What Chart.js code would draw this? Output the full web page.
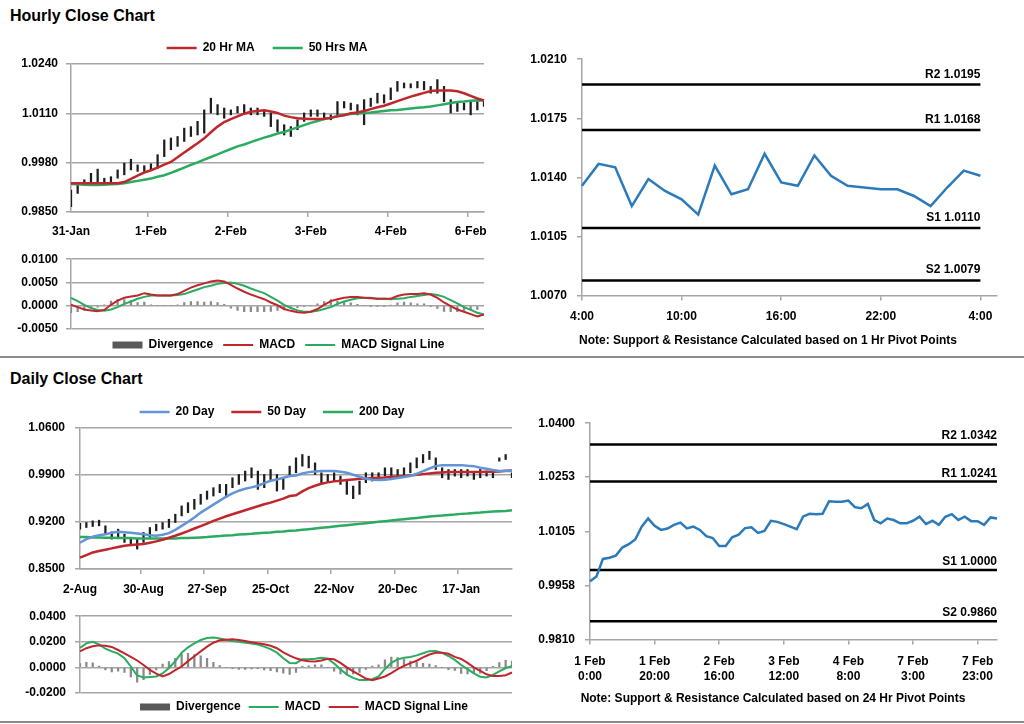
<!DOCTYPE html>
<html><head><meta charset="utf-8">
<script src="https://cdn.jsdelivr.net/npm/chart.js@4.4.1/dist/chart.umd.min.js"></script>
<style>
html,body{margin:0;padding:0;background:#fff;width:1024px;height:724px;overflow:hidden;position:relative;font-family:'Liberation Sans',Arial,sans-serif;}
.box{position:absolute;}
.title{position:absolute;left:10px;font-weight:bold;font-size:16px;line-height:16px;color:#000;white-space:nowrap;}
.sep{position:absolute;left:0;width:1024px;height:2px;background:#8c8c8c;}
</style></head><body>
<div class="title" style="top:8px">Hourly Close Chart</div>
<div class="title" style="top:371px">Daily Close Chart</div>
<div class="sep" style="top:356px"></div>
<div class="sep" style="top:721px"></div>
<div class="box" style="left:0;top:24px;width:534px;height:218px"><canvas id="cA"></canvas></div>
<div class="box" style="left:0;top:244px;width:557px;height:117px"><canvas id="cB"></canvas></div>
<div class="box" style="left:520px;top:42px;width:496px;height:310px"><canvas id="cC"></canvas></div>
<div class="box" style="left:0;top:389px;width:544px;height:212px"><canvas id="cD"></canvas></div>
<div class="box" style="left:0;top:600px;width:608px;height:123px"><canvas id="cE"></canvas></div>
<div class="box" style="left:530px;top:406px;width:486px;height:304px"><canvas id="cF"></canvas></div>
<script>
// ================= DATA =================
// Hourly close chart (2-hour samples from 31-Jan 0:00)
const hourlyDays = ['31-Jan','1-Feb','2-Feb','3-Feb','4-Feb','6-Feb'];
const hourlyHigh = [0.9908,0.9926,0.9935,0.9952,0.9963,0.9939,0.9943,0.9961,0.9979,0.9989,
 0.9974,0.9972,0.9977,1.0001,1.0040,1.0045,1.0049,1.0071,1.0075,1.0089,
 1.0119,1.0150,1.0133,1.0124,1.0119,1.0128,1.0133,1.0124,1.0124,1.0119,
 1.0111,1.0093,1.0080,1.0075,1.0093,1.0111,1.0119,1.0119,1.0111,1.0106,
 1.0141,1.0141,1.0137,1.0133,1.0146,1.0150,1.0163,1.0159,1.0177,1.0194,
 1.0190,1.0188,1.0194,1.0194,1.0181,1.0199,1.0181,1.0146,1.0141,1.0137,
 1.0141,1.0141,1.0146];
const hourlyLow = [0.9864,0.9899,0.9921,0.9924,0.9926,0.9924,0.9926,0.9939,0.9948,0.9961,
 0.9957,0.9957,0.9961,0.9965,0.9996,1.0014,1.0023,1.0036,1.0049,1.0053,
 1.0058,1.0111,1.0106,1.0097,1.0106,1.0111,1.0111,1.0106,1.0106,1.0102,
 1.0075,1.0062,1.0053,1.0049,1.0067,1.0089,1.0102,1.0102,1.0093,1.0093,
 1.0106,1.0124,1.0119,1.0106,1.0080,1.0128,1.0137,1.0137,1.0146,1.0168,
 1.0177,1.0177,1.0177,1.0172,1.0163,1.0163,1.0141,1.0111,1.0115,1.0119,
 1.0106,1.0119,1.0128];
const hourlyMA20 = [0.9926,0.9926,0.9926,0.9926,0.9926,0.9926,0.9926,0.9926,0.9929,0.9937,
 0.9946,0.9954,0.9960,0.9967,0.9975,0.9982,0.9994,1.0007,1.0019,1.0031,
 1.0044,1.0060,1.0075,1.0087,1.0095,1.0102,1.0109,1.0114,1.0116,1.0118,
 1.0115,1.0111,1.0104,1.0100,1.0097,1.0096,1.0095,1.0095,1.0096,1.0098,
 1.0102,1.0105,1.0110,1.0112,1.0116,1.0121,1.0126,1.0130,1.0136,1.0142,
 1.0148,1.0154,1.0159,1.0164,1.0169,1.0170,1.0170,1.0170,1.0168,1.0163,
 1.0156,1.0149,1.0144];
const hourlyMA50 = [0.9924,0.9923,0.9922,0.9921,0.9921,0.9922,0.9923,0.9924,0.9926,0.9929,
 0.9932,0.9935,0.9938,0.9943,0.9947,0.9953,0.9960,0.9967,0.9974,0.9981,
 0.9988,0.9995,1.0002,1.0009,1.0016,1.0023,1.0028,1.0034,1.0040,1.0046,
 1.0051,1.0057,1.0061,1.0067,1.0073,1.0079,1.0085,1.0090,1.0095,1.0098,
 1.0103,1.0106,1.0108,1.0110,1.0111,1.0112,1.0114,1.0116,1.0118,1.0119,
 1.0121,1.0123,1.0125,1.0126,1.0128,1.0131,1.0134,1.0137,1.0140,1.0141,
 1.0143,1.0144,1.0144];
const hourlyYTicks = [0.9850,0.9980,1.0110,1.0240];

const hMacd = [0.0002,-0.0003,-0.0008,-0.0010,-0.0012,-0.0009,0.0002,0.0011,0.0017,0.0020,
 0.0022,0.0027,0.0024,0.0022,0.0022,0.0022,0.0025,0.0032,0.0039,0.0044,
 0.0048,0.0052,0.0054,0.0052,0.0045,0.0037,0.0030,0.0024,0.0019,0.0014,
 0.0007,0.0001,-0.0007,-0.0011,-0.0014,-0.0015,-0.0013,-0.0007,0.0002,0.0010,
 0.0014,0.0017,0.0019,0.0019,0.0017,0.0016,0.0015,0.0015,0.0015,0.0021,
 0.0024,0.0025,0.0025,0.0027,0.0024,0.0017,0.0007,-0.0001,-0.0008,-0.0013,
 -0.0018,-0.0023,-0.0019];
const hSignal = [0.0017,0.0010,0.0002,-0.0005,-0.0009,-0.0011,-0.0008,-0.0003,0.0004,0.0009,
 0.0015,0.0019,0.0022,0.0022,0.0022,0.0022,0.0023,0.0025,0.0030,0.0035,
 0.0040,0.0043,0.0047,0.0049,0.0050,0.0047,0.0043,0.0037,0.0032,0.0027,
 0.0019,0.0011,0.0002,-0.0005,-0.0010,-0.0013,-0.0013,-0.0011,-0.0007,-0.0003,
 0.0004,0.0009,0.0013,0.0016,0.0017,0.0017,0.0015,0.0015,0.0014,0.0015,
 0.0016,0.0019,0.0021,0.0023,0.0025,0.0023,0.0019,0.0012,0.0005,-0.0003,
 -0.0009,-0.0015,-0.0019];
const hDiv = [-0.0015,-0.0013,-0.0010,-0.0005,-0.0003,0.0002,0.0010,0.0014,0.0013,0.0011,
 0.0007,0.0008,0.0002,0.0000,0.0000,0.0000,0.0002,0.0007,0.0009,0.0009,
 0.0008,0.0009,0.0007,0.0003,-0.0005,-0.0010,-0.0013,-0.0013,-0.0013,-0.0013,
 -0.0012,-0.0010,-0.0009,-0.0006,-0.0004,-0.0002,0.0000,0.0004,0.0009,0.0013,
 0.0010,0.0008,0.0006,0.0003,0.0000,-0.0001,-0.0001,-0.0001,0.0001,0.0006,
 0.0008,0.0006,0.0004,0.0004,-0.0001,-0.0006,-0.0012,-0.0013,-0.0013,-0.0010,
 -0.0009,-0.0008,0.0000];
const hMacdTicks = [-0.0050,0.0000,0.0050,0.0100];

// Hourly pivot chart (1 Hr pivots)
const pivotHours = ['4:00','5:00','6:00','7:00','8:00','9:00','10:00','11:00','12:00','13:00','14:00','15:00','16:00','17:00','18:00','19:00','20:00','21:00','22:00','23:00','0:00','1:00','2:00','3:00','4:00',''];
const pivotHourly = [1.0135,1.0148,1.0146,1.0123,1.0139,1.0132,1.0127,1.0118,1.0147,1.0130,1.0133,1.0154,1.0137,1.0135,1.0153,1.0141,1.0135,1.0134,1.0133,1.0133,1.0129,1.0123,1.0134,1.0144,1.0141];
const hourlyLevelNames = ['R2','R1','S1','S2'];
const hourlyLevels = [1.0195,1.0168,1.0110,1.0079];
const pivotHourlyYTicks = [1.0070,1.0105,1.0140,1.0175,1.0210];

// Daily close chart (2-trading-day samples from 2-Aug)
const dailyTicks = ['2-Aug','30-Aug','27-Sep','25-Oct','22-Nov','20-Dec','17-Jan'];
const dailyHigh = [0.9182,0.9192,0.9217,0.9227,0.9143,0.9054,0.9093,0.9019,0.8970,0.8945,
 0.9044,0.9118,0.9167,0.9192,0.9241,0.9316,0.9439,0.9488,0.9538,0.9612,
 0.9661,0.9711,0.9760,0.9760,0.9859,0.9908,0.9958,1.0007,0.9958,0.9908,
 0.9982,0.9908,0.9859,1.0032,1.0155,1.0205,1.0180,1.0081,0.9933,0.9908,
 0.9933,0.9884,0.9834,0.9735,0.9810,0.9933,0.9933,0.9933,1.0007,1.0007,
 0.9982,1.0007,1.0081,1.0155,1.0205,1.0254,1.0155,1.0007,0.9982,0.9982,
 0.9982,0.9982,0.9933,0.9982,0.9958,0.9958,1.0155,1.0205,0.9933];
const dailyLow = [0.9093,0.9118,0.9133,0.9143,0.9019,0.8945,0.8970,0.8896,0.8846,0.8797,
 0.8896,0.8970,0.9069,0.9093,0.9118,0.9192,0.9291,0.9340,0.9390,0.9464,
 0.9538,0.9587,0.9637,0.9563,0.9711,0.9760,0.9810,0.9859,0.9686,0.9711,
 0.9810,0.9661,0.9686,0.9884,0.9933,1.0032,1.0007,0.9908,0.9760,0.9785,
 0.9810,0.9760,0.9612,0.9548,0.9612,0.9785,0.9810,0.9834,0.9884,0.9859,
 0.9859,0.9884,0.9933,1.0007,1.0081,1.0131,0.9982,0.9859,0.9834,0.9884,
 0.9859,0.9884,0.9834,0.9859,0.9884,0.9859,1.0106,1.0131,0.9859];
const daily20 = [0.8891,0.8945,0.8980,0.9004,0.9019,0.9039,0.9054,0.9049,0.9039,0.9029,
 0.9019,0.9004,0.8994,0.9009,0.9034,0.9083,0.9143,0.9202,0.9266,0.9340,
 0.9400,0.9459,0.9518,0.9577,0.9627,0.9666,0.9696,0.9716,0.9740,0.9780,
 0.9815,0.9834,0.9859,0.9884,0.9894,0.9923,0.9943,0.9953,0.9958,0.9958,
 0.9958,0.9948,0.9933,0.9903,0.9874,0.9849,0.9829,0.9824,0.9829,0.9839,
 0.9854,0.9869,0.9884,0.9918,0.9958,0.9997,1.0032,1.0047,1.0047,1.0047,
 1.0047,1.0037,1.0032,1.0007,0.9992,0.9973,0.9958,0.9958,0.9958];
const daily50 = [0.8668,0.8708,0.8747,0.8767,0.8787,0.8807,0.8827,0.8846,0.8856,0.8866,
 0.8871,0.8891,0.8911,0.8935,0.8965,0.8995,0.9029,0.9064,0.9103,0.9138,
 0.9177,0.9217,0.9251,0.9286,0.9316,0.9345,0.9375,0.9405,0.9434,0.9464,
 0.9488,0.9518,0.9548,0.9587,0.9597,0.9656,0.9706,0.9740,0.9770,0.9790,
 0.9805,0.9815,0.9824,0.9834,0.9844,0.9849,0.9854,0.9859,0.9864,0.9874,
 0.9879,0.9884,0.9894,0.9903,0.9913,0.9923,0.9933,0.9938,0.9943,0.9943,
 0.9943,0.9943,0.9943,0.9943,0.9948,0.9948,0.9953,0.9963,0.9968];
const daily200 = [0.8975,0.8975,0.8970,0.8970,0.8965,0.8965,0.8960,0.8960,0.8960,0.8955,
 0.8955,0.8955,0.8955,0.8955,0.8955,0.8955,0.8960,0.8960,0.8965,0.8970,
 0.8975,0.8985,0.8990,0.8999,0.9004,0.9014,0.9019,0.9024,0.9034,0.9039,
 0.9044,0.9054,0.9059,0.9069,0.9074,0.9083,0.9093,0.9103,0.9113,0.9123,
 0.9133,0.9143,0.9153,0.9162,0.9172,0.9182,0.9192,0.9202,0.9212,0.9222,
 0.9232,0.9241,0.9251,0.9261,0.9271,0.9281,0.9291,0.9296,0.9306,0.9311,
 0.9321,0.9325,0.9335,0.9340,0.9350,0.9355,0.9360,0.9365,0.9375];
const dailyYTicks = [0.8500,0.9200,0.9900,1.0600];

const dMacd = [0.0153,0.0188,0.0200,0.0179,0.0146,0.0125,0.0108,0.0071,0.0007,-0.0063,
 -0.0078,-0.0075,-0.0071,-0.0047,-0.0005,0.0049,0.0115,0.0157,0.0188,0.0214,
 0.0230,0.0233,0.0226,0.0216,0.0207,0.0200,0.0193,0.0186,0.0179,0.0162,
 0.0143,0.0115,0.0071,0.0035,0.0033,0.0063,0.0063,0.0068,0.0075,0.0068,
 0.0031,-0.0014,-0.0056,-0.0082,-0.0099,-0.0099,-0.0092,-0.0071,-0.0012,0.0035,
 0.0063,0.0075,0.0082,0.0094,0.0110,0.0127,0.0129,0.0113,0.0089,0.0059,
 0.0019,-0.0014,-0.0047,-0.0073,-0.0078,-0.0059,-0.0031,-0.0005,0.0009];
const dSignal = [0.0125,0.0150,0.0165,0.0172,0.0169,0.0160,0.0136,0.0110,0.0082,0.0054,
 0.0019,-0.0019,-0.0049,-0.0071,-0.0052,-0.0021,0.0007,0.0049,0.0087,0.0125,
 0.0162,0.0193,0.0212,0.0216,0.0219,0.0214,0.0207,0.0197,0.0188,0.0181,
 0.0169,0.0150,0.0118,0.0092,0.0071,0.0056,0.0049,0.0047,0.0054,0.0068,
 0.0063,0.0035,0.0000,-0.0031,-0.0059,-0.0087,-0.0101,-0.0087,-0.0071,-0.0045,
 -0.0014,0.0012,0.0033,0.0052,0.0078,0.0101,0.0115,0.0115,0.0106,0.0082,
 0.0066,0.0035,0.0000,-0.0028,-0.0054,-0.0068,-0.0068,-0.0061,-0.0040];
const dDiv = [0.0030,0.0040,0.0035,0.0010,-0.0020,-0.0035,-0.0030,-0.0040,-0.0075,-0.0115,
 -0.0095,-0.0055,-0.0020,0.0025,0.0045,0.0070,0.0105,0.0110,0.0100,0.0090,
 0.0070,0.0040,0.0015,0.0000,-0.0010,-0.0015,-0.0015,-0.0012,-0.0010,-0.0020,
 -0.0025,-0.0035,-0.0045,-0.0055,-0.0040,0.0008,0.0012,0.0020,0.0020,0.0000,
 -0.0030,-0.0050,-0.0055,-0.0050,-0.0040,-0.0015,0.0010,0.0020,0.0060,0.0080,
 0.0077,0.0063,0.0050,0.0040,0.0032,0.0026,0.0014,0.0000,-0.0017,-0.0023,
 -0.0047,-0.0050,-0.0047,-0.0045,-0.0025,0.0009,0.0037,0.0056,0.0049];
const dMacdTicks = [-0.0200,0.0000,0.0200,0.0400];

// Daily pivot chart (24 Hr pivots), 2-hour samples
const pivotDailyTicks = [['1 Feb','0:00'],['1 Feb','20:00'],['2 Feb','16:00'],['3 Feb','12:00'],['4 Feb','8:00'],['7 Feb','3:00'],['7 Feb','23:00']];
const pivotDaily = [0.9969,0.9982,1.0030,1.0033,1.0039,1.0061,1.0070,1.0083,1.0118,1.0140,
 1.0120,1.0109,1.0113,1.0123,1.0129,1.0113,1.0118,1.0109,1.0092,1.0087,
 1.0065,1.0065,1.0089,1.0096,1.0114,1.0116,1.0101,1.0106,1.0134,1.0131,
 1.0125,1.0118,1.0111,1.0146,1.0153,1.0152,1.0153,1.0187,1.0186,1.0186,
 1.0189,1.0171,1.0168,1.0180,1.0136,1.0127,1.0140,1.0136,1.0127,1.0127,
 1.0134,1.0145,1.0125,1.0134,1.0123,1.0145,1.0152,1.0136,1.0145,1.0133,
 1.0133,1.0123,1.0143,1.0140];
const dailyLevelNames = ['R2','R1','S1','S2'];
const dailyLevels = [1.0342,1.0241,1.0000,0.9860];
const pivotDailyYTicks = [0.9810,0.9958,1.0105,1.0253,1.0400];

// ================= STYLE / HELPERS =================
Chart.defaults.font.family = "'Liberation Sans', Arial, Helvetica, sans-serif";
Chart.defaults.font.size = 12;
Chart.defaults.font.weight = 'bold';
Chart.defaults.color = '#000';
Chart.defaults.animation = false;
Chart.defaults.plugins.tooltip.enabled = false;
Chart.defaults.elements.point.radius = 0;
Chart.defaults.elements.line.tension = 0;

const GRID = '#a6a6a6';
const RED = '#c0272d', GREEN = '#2aab5f', BLUE20 = '#6395d6', BLUE = '#2b7bba';
const BARC = '#1e1e1e', DIVC = '#8a8a8a', DIV_LEGEND = '#595959';

function sparseLabels(n, every, names) {
  return Array.from({length: n}, (_, i) => (i % every === 0 && names[i / every] !== undefined) ? names[i / every] : '');
}
function yAxis(ticks, width, pad, onArea) {
  return {
    type: 'linear', position: 'left', min: ticks[0], max: ticks[ticks.length - 1],
    afterBuildTicks: s => { s.ticks = ticks.map(v => ({value: v})); },
    afterFit: s => { s.width = width; },
    ticks: { padding: pad, autoSkip: false, callback: v => Number(v).toFixed(4) },
    grid: { color: GRID, lineWidth: 1.5, drawOnChartArea: onArea, tickLength: 5 },
    border: { color: GRID, width: 1.5 }
  };
}
function xAxis(every, height, pad, lastTick) {
  return {
    type: 'category', offset: false,
    afterFit: s => { s.height = height; },
    ticks: { autoSkip: false, maxRotation: 0, minRotation: 0, padding: pad,
      callback: function(v, i) { return (i % every === 0 && i <= lastTick) ? this.getLabelForValue(v) : ''; } },
    grid: { drawOnChartArea: false, tickLength: 5, lineWidth: 1.5,
      color: c => (c.index % every === 0 && c.index <= lastTick) ? GRID : 'rgba(0,0,0,0)' },
    border: { color: GRID, width: 1.5 }
  };
}
function spacer(width) {
  return { type: 'linear', position: 'right', display: true,
    grid: { display: false, drawTicks: false }, border: { display: false },
    ticks: { display: false }, afterFit: s => { s.width = width; } };
}
const baseGen = (Chart.defaults.plugins.legend && Chart.defaults.plugins.legend.labels.generateLabels);
function legend(pos, padding) {
  return {
    display: true, position: pos,
    labels: {
      usePointStyle: true, pointStyleWidth: 30, boxHeight: 7, padding: padding,
      color: '#000', font: { size: 12, weight: 'bold' },
      filter: it => it.text !== 'Price',
      sort: (a, b) => a.datasetIndex - b.datasetIndex,
      generateLabels(chart) {
        const items = baseGen(chart);
        items.forEach(it => {
          if (it.text === 'Divergence') { it.pointStyle = 'rect'; it.fillStyle = DIV_LEGEND; it.strokeStyle = DIV_LEGEND; it.lineWidth = 0; }
          else { it.pointStyle = 'line'; }
        });
        return items;
      }
    }
  };
}
const srLabelPlugin = {
  id: 'srLabels',
  afterDatasetsDraw(chart, args, opts) {
    if (!opts || !opts.items) return;
    const ctx = chart.ctx, xs = chart.scales.x, ys = chart.scales.y;
    ctx.save();
    ctx.font = "bold 12px 'Liberation Sans', Arial, sans-serif";
    ctx.fillStyle = '#000';
    ctx.textAlign = 'right';
    ctx.textBaseline = 'alphabetic';
    opts.items.forEach(it => ctx.fillText(it.text, xs.getPixelForValue(opts.lastIndex), ys.getPixelForValue(it.value) - opts.offset));
    ctx.restore();
  }
};
function levelSets(names, levels, n) {
  return names.map((nm, k) => ({
    type: 'line', label: nm, data: new Array(n).fill(levels[k]),
    borderColor: '#000', borderWidth: 2.5, pointRadius: 0, order: 2
  }));
}

// ================= CHART A: Hourly close =================
const hourlyCats = sparseLabels(hourlyHigh.length, 12, hourlyDays);
new Chart(document.getElementById('cA'), {
  type: 'bar',
  data: { labels: hourlyCats, datasets: [
    { type: 'line', label: '20 Hr MA', data: hourlyMA20, borderColor: RED, backgroundColor: RED, borderWidth: 2.5, order: 1 },
    { type: 'line', label: '50 Hrs MA', data: hourlyMA50, borderColor: GREEN, backgroundColor: GREEN, borderWidth: 2.5, order: 2 },
    { type: 'bar', label: 'Price', data: hourlyLow.map((l, i) => [l, hourlyHigh[i]]), backgroundColor: BARC, barThickness: 1.6, order: 3 }
  ]},
  options: {
    responsive: true, maintainAspectRatio: false,
    layout: { padding: 0 },
    plugins: { legend: legend('top', 18) },
    scales: { x: xAxis(12, 30, 7, 1e9), y: yAxis(hourlyYTicks, 71, 8, true), yR: spacer(50) }
  }
});

// ================= CHART B: Hourly MACD =================
new Chart(document.getElementById('cB'), {
  type: 'bar',
  data: { labels: hourlyCats, datasets: [
    { type: 'bar', label: 'Divergence', data: hDiv, backgroundColor: DIVC, barThickness: 1.6, order: 3 },
    { type: 'line', label: 'MACD', data: hMacd, borderColor: RED, backgroundColor: RED, borderWidth: 2, order: 1 },
    { type: 'line', label: 'MACD Signal Line', data: hSignal, borderColor: GREEN, backgroundColor: GREEN, borderWidth: 2, order: 2 }
  ]},
  options: {
    responsive: true, maintainAspectRatio: false,
    layout: { padding: { top: 8 } },
    plugins: { legend: legend('bottom', 10) },
    scales: { x: { type: 'category', offset: false, display: false }, y: yAxis(hMacdTicks, 71, 8, true), yR: spacer(73) }
  }
});

// ================= CHART C: Hourly pivot =================
new Chart(document.getElementById('cC'), {
  type: 'line',
  data: { labels: pivotHours, datasets: [
    { label: 'Close', data: pivotHourly, borderColor: BLUE, borderWidth: 2.5, order: 1 },
    ...levelSets(hourlyLevelNames, hourlyLevels, pivotHourly.length)
  ]},
  plugins: [srLabelPlugin],
  options: {
    responsive: true, maintainAspectRatio: false,
    layout: { padding: { top: 10 } },
    plugins: {
      legend: { display: false },
      title: { display: true, position: 'bottom', text: 'Note: Support & Resistance Calculated based on 1 Hr Pivot Points',
        font: { size: 12, weight: 'bold' }, color: '#000', padding: { top: 8, bottom: 4 } },
      srLabels: { items: hourlyLevelNames.map((n, k) => ({ text: n + ' ' + hourlyLevels[k].toFixed(4), value: hourlyLevels[k] })), lastIndex: pivotHourly.length - 1, offset: 7 }
    },
    scales: { x: xAxis(6, 30, 9, pivotHourly.length - 1), y: yAxis(pivotHourlyYTicks, 62, 10, false), yR: spacer(19) }
  }
});

// ================= CHART D: Daily close =================
const dailyCats = sparseLabels(dailyHigh.length, 10, dailyTicks);
new Chart(document.getElementById('cD'), {
  type: 'bar',
  data: { labels: dailyCats, datasets: [
    { type: 'line', label: '20 Day', data: daily20, borderColor: BLUE20, backgroundColor: BLUE20, borderWidth: 2.5, order: 1 },
    { type: 'line', label: '50 Day', data: daily50, borderColor: RED, backgroundColor: RED, borderWidth: 2.5, order: 2 },
    { type: 'line', label: '200 Day', data: daily200, borderColor: GREEN, backgroundColor: GREEN, borderWidth: 2.5, order: 3 },
    { type: 'bar', label: 'Price', data: dailyLow.map((l, i) => [l, dailyHigh[i]]), backgroundColor: BARC, barThickness: 1.6, order: 4 }
  ]},
  options: {
    responsive: true, maintainAspectRatio: false,
    layout: { padding: 0 },
    plugins: { legend: legend('top', 17) },
    scales: { x: xAxis(10, 32, 8, 1e9), y: yAxis(dailyYTicks, 80, 10, true), yR: spacer(32) }
  }
});

// ================= CHART E: Daily MACD =================
new Chart(document.getElementById('cE'), {
  type: 'bar',
  data: { labels: dailyCats, datasets: [
    { type: 'bar', label: 'Divergence', data: dDiv, backgroundColor: DIVC, barThickness: 1.6, order: 3 },
    { type: 'line', label: 'MACD', data: dMacd, borderColor: GREEN, backgroundColor: GREEN, borderWidth: 2, order: 2 },
    { type: 'line', label: 'MACD Signal Line', data: dSignal, borderColor: RED, backgroundColor: RED, borderWidth: 2, order: 1 }
  ]},
  options: {
    responsive: true, maintainAspectRatio: false,
    layout: { padding: { top: 8 } },
    plugins: { legend: legend('bottom', 8) },
    scales: { x: { type: 'category', offset: false, display: false }, y: yAxis(dMacdTicks, 80, 9, true), yR: spacer(96) }
  }
});

// ================= CHART F: Daily pivot =================
const pivotDailyCats = sparseLabels(pivotDaily.length, 10, pivotDailyTicks);
new Chart(document.getElementById('cF'), {
  type: 'line',
  data: { labels: pivotDailyCats, datasets: [
    { label: 'Close', data: pivotDaily, borderColor: BLUE, borderWidth: 2.5, order: 1 },
    ...levelSets(dailyLevelNames, dailyLevels, pivotDaily.length)
  ]},
  plugins: [srLabelPlugin],
  options: {
    responsive: true, maintainAspectRatio: false,
    layout: { padding: { top: 11 } },
    plugins: {
      legend: { display: false },
      title: { display: true, position: 'bottom', text: 'Note: Support & Resistance Calculated based on 24 Hr Pivot Points',
        font: { size: 12, weight: 'bold' }, color: '#000', padding: { top: 8, bottom: 4 } },
      srLabels: { items: dailyLevelNames.map((n, k) => ({ text: n + ' ' + dailyLevels[k].toFixed(4), value: dailyLevels[k] })), lastIndex: pivotDaily.length - 1, offset: 5 }
    },
    scales: { x: xAxis(10, 44, 10, 1e9), y: yAxis(pivotDailyYTicks, 60, 10, false), yR: spacer(19) }
  }
});
</script>
</body></html>
